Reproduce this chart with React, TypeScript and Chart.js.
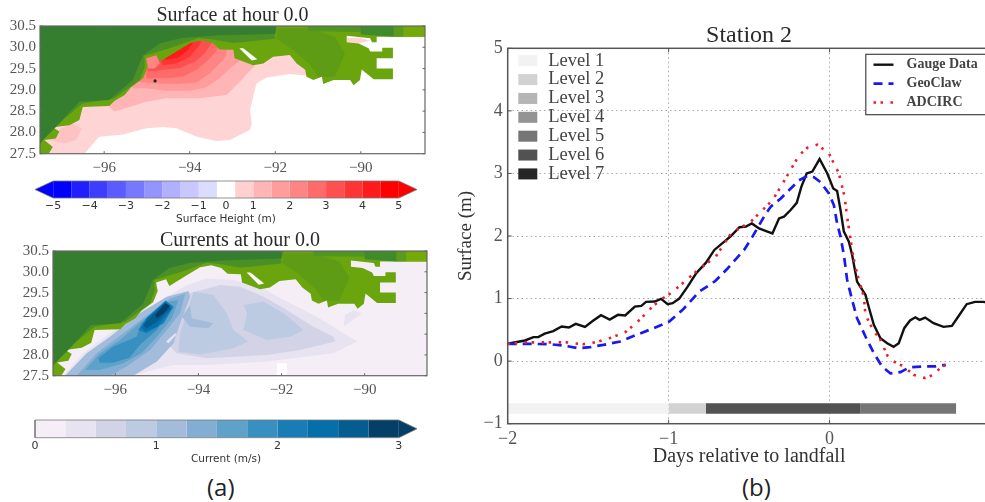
import React, { useEffect, useRef } from "react";
import { Chart, registerables } from "chart.js";

Chart.register(...registerables);

type Pt = [number, number];

const SERIF = "'Liberation Serif', serif";
const SANS = "'DejaVu Sans', sans-serif";

// ---------- Station 2 series: [days relative to landfall, surface in m] ----------
const gaugeData: Pt[] = [[-2,.277],[-1.893,.33],[-1.84,.383],[-1.81,.383],[-1.77,.44],[-1.717,.48],[-1.665,.553],[-1.62,.537],[-1.577,.596],[-1.52,.548],[-1.47,.644],[-1.42,.734],[-1.366,.665],[-1.315,.74],[-1.27,.73],[-1.21,.872],[-1.17,.883],[-1.14,.947],[-1.087,.952],[-1.047,.995],[-1.006,.91],[-.975,.926],[-.934,1.0],[-.882,1.19],[-.83,1.40],[-.768,1.574],[-.716,1.777],[-.654,1.91],[-.613,2.0],[-.56,2.14],[-.52,2.15],[-.483,2.2],[-.438,2.12],[-.386,2.07],[-.355,2.04],[-.314,2.28],[-.283,2.31],[-.242,2.415],[-.204,2.53],[-.175,2.79],[-.142,3.0],[-.107,3.03],[-.062,3.23],[-.014,3.0],[.023,2.76],[.047,2.72],[.068,2.415],[.089,2.07],[.12,1.91],[.14,1.70],[.171,1.27],[.223,1.06],[.243,.87],[.275,.58],[.316,.367],[.358,.287],[.398,.229],[.43,.287],[.464,.527],[.5,.649],[.533,.70],[.56,.66],[.594,.697],[.646,.606],[.708,.548],[.76,.564],[.80,.713],[.852,.91],[.904,.947],[.956,.947],[1.0,.93]];
const geoClawData: Pt[] = [[-2,.277],[-1.88,.277],[-1.736,.27],[-1.653,.25],[-1.56,.207],[-1.488,.223],[-1.405,.26],[-1.3,.314],[-1.2,.42],[-1.1,.52],[-.996,.633],[-.913,.82],[-.81,1.11],[-.71,1.28],[-.634,1.48],[-.53,1.78],[-.479,1.99],[-.407,2.31],[-.365,2.47],[-.303,2.6],[-.241,2.76],[-.19,2.89],[-.138,2.96],[-.097,2.94],[-.056,2.86],[-.004,2.68],[.027,2.49],[.047,2.2],[.068,1.99],[.09,1.68],[.109,1.30],[.14,.98],[.171,.686],[.223,.394],[.275,.128],[.326,-.085],[.378,-.197],[.44,-.176],[.5,-.096],[.584,-.085],[.656,-.085],[.722,-.058]];
const adcircData: Pt[] = [[-2,.277],[-1.88,.30],[-1.76,.30],[-1.636,.30],[-1.533,.27],[-1.45,.303],[-1.347,.383],[-1.264,.473],[-1.18,.66],[-1.1,.872],[-1.037,1.005],[-.986,1.085],[-.913,1.245],[-.83,1.43],[-.707,1.67],[-.613,2.04],[-.489,2.23],[-.427,2.39],[-.355,2.57],[-.303,2.79],[-.262,2.97],[-.19,3.29],[-.138,3.41],[-.076,3.46],[-.004,3.32],[.058,3.0],[.093,2.63],[.109,2.31],[.14,1.78],[.15,1.64],[.171,1.40],[.213,1.03],[.223,.74],[.27,.5],[.316,.34],[.36,.085],[.398,-.005],[.46,-.085],[.522,-.218],[.594,-.27],[.646,-.218],[.687,-.11],[.73,-.048]];

const levelNames = ["Level 1","Level 2","Level 3","Level 4","Level 5","Level 6","Level 7"];
const levelColors = ["#f2f2f2","#d2d2d2","#b5b5b5","#949494","#757575","#525252","#252525"];
const levelBarIndex = [0, 1, 5, 4];
const levelBarStart = [-2, -1, -0.768, 0.19];
const levelBarEnd = [-1, -0.768, 0.19, 0.786];
const levelBarY = -0.757;

// ---------- Colour bars ----------
const surfaceColors = ["#0000ff","#1f1fff","#3d3dff","#5b5bff","#7777ff","#9494ff","#b0b0ff","#c8c8ff","#dcdcff","#ffffff","#ffd0d0","#ffb5b5","#ff9c9c","#ff8585","#ff6b6b","#ff5050","#ff3535","#ff1b1b","#ff0000"];
const surfaceTickSlots = [0, 2, 4, 6, 8, 9.5, 11, 13, 15, 17, 19];
const surfaceTickLabels = ["−5","−4","−3","−2","−1","0","1","2","3","4","5"];
const currentColors = ["#f5eef6","#e8e3f0","#d3d3e8","#bccbe2","#a3bcdb","#83aed3","#5ea2ca","#3890c0","#187db6","#056fab","#045d90","#033f66"];
const currentTicks = [0, 1, 2, 3];

// ---------- Map shapes: [longitude, latitude] ----------
const landShape: Pt[] = [[-97.30,27.50],[-97.20,27.66],[-97.40,27.82],[-97.13,27.86],[-97.05,28.02],[-97.20,28.12],[-96.81,28.17],[-96.58,28.29],[-96.50,28.60],[-95.88,28.62],[-95.76,28.74],[-95.52,28.88],[-95.37,29.06],[-95.09,29.27],[-94.98,29.54],[-95.02,29.74],[-94.78,29.82],[-94.70,29.66],[-94.31,29.90],[-93.96,30.11],[-93.69,30.16],[-93.45,30.09],[-93.30,29.95],[-92.98,29.94],[-92.95,29.74],[-92.52,29.58],[-92.28,29.62],[-92.05,29.78],[-91.66,29.82],[-91.50,29.62],[-91.30,29.47],[-91.27,29.31],[-91.11,29.23],[-90.91,29.31],[-90.88,29.14],[-90.64,29.23],[-90.25,29.23],[-90.17,29.11],[-90.02,29.23],[-89.98,29.48],[-89.70,29.25],[-89.25,29.25],[-89.25,29.50],[-89.63,29.50],[-89.63,29.74],[-89.25,29.74],[-89.25,29.99],[-89.50,29.99],[-89.50,29.90],[-89.78,29.90],[-89.82,29.98],[-90.05,30.09],[-90.33,30.12],[-90.33,30.27],[-89.78,30.21],[-89.74,30.12],[-89.63,30.12],[-89.63,30.25],[-88.50,30.25],[-88.50,30.50],[-97.50,30.50],[-97.50,27.50]];
const midLand: Pt[] = [[-92.01,30.5],[-92.01,30.2],[-92.98,30.1],[-93.5,30.19],[-93.8,30.22],[-94.4,30.0],[-94.8,29.88],[-95.06,29.8],[-95.05,29.55],[-95.17,29.23],[-95.76,28.80],[-96.5,28.68],[-96.97,28.29],[-97.44,27.82],[-97.5,27.7],[-97.5,30.5]];
const darkLand: Pt[] = [[-97.5,30.5],[-97.5,27.75],[-97.05,28.21],[-96.58,28.72],[-95.88,28.76],[-95.33,29.23],[-95.1,29.8],[-94.70,30.09],[-94.2,30.22],[-93.3,30.28],[-92.5,30.3],[-92.0,30.32],[-91.97,30.5]];
const inlandPatch: Pt[] = [[-91.97,30.45],[-91.23,30.45],[-90.61,30.25],[-90.37,29.86],[-90.61,29.3],[-91.0,29.32],[-91.2,29.6],[-91.6,29.95],[-91.97,30.2]];
const northStrip: Pt[] = [[-91.23,30.5],[-91.23,30.38],[-90.0,30.36],[-90.0,30.5]];
const northStripEast: Pt[] = [[-90.0,30.5],[-90.0,30.3],[-89.23,30.25],[-89.23,30.5]];
const cornerStripMid: Pt[] = [[-89.23,30.5],[-89.23,30.25],[-89.0,30.25],[-89.0,30.5]];
const cornerStrip: Pt[] = [[-89.0,30.5],[-89.0,30.25],[-88.5,30.25],[-88.5,30.5]];
const lakeShape: Pt[] = [[-92.84,29.98],[-92.75,29.98],[-92.42,29.72],[-92.55,29.69]];

const surfaceBand1: Pt[] = [[-97.36,27.5],[-96.46,27.5],[-96.19,27.82],[-96.11,27.90],[-95.56,27.95],[-95.02,28.10],[-94.62,28.13],[-94.31,28.10],[-93.84,27.90],[-93.38,27.80],[-93.06,27.82],[-92.59,28.06],[-92.55,28.21],[-92.59,28.53],[-92.44,29.15],[-92.20,29.29],[-91.66,29.37],[-91.23,29.33],[-91.23,29.93],[-93.77,30.33],[-95.09,29.94],[-96.11,28.92],[-97.5,27.98]];
const surfaceBand2: Pt[] = [[-95.76,28.49],[-95.33,28.62],[-95.02,28.72],[-94.55,28.80],[-93.77,28.80],[-93.14,28.88],[-92.83,29.19],[-92.48,29.57],[-92.98,30.33],[-95.09,29.94],[-95.88,28.84],[-95.88,28.60]];
const surfaceBand3: Pt[] = [[-95.33,29.04],[-95.02,29.04],[-94.55,28.98],[-94.0,28.98],[-93.61,29.06],[-93.30,29.27],[-93.06,29.51],[-92.79,29.72],[-92.79,30.3],[-95.09,30.0],[-95.5,29.3]];
const surfaceBand4: Pt[] = [[-95.21,29.19],[-94.78,29.15],[-94.31,29.14],[-93.84,29.17],[-93.53,29.39],[-93.30,29.62],[-93.14,29.82],[-93.14,30.3],[-95.09,30.0],[-95.4,29.4]];
const surfaceBand5: Pt[] = [[-95.02,29.27],[-94.55,29.27],[-94.16,29.31],[-93.84,29.47],[-93.61,29.66],[-93.38,29.90],[-93.34,30.01],[-93.3,30.3],[-95.0,30.0]];
const surfaceBand6: Pt[] = [[-94.98,29.43],[-94.62,29.47],[-94.23,29.51],[-93.88,29.66],[-93.65,29.86],[-93.49,30.09],[-93.5,30.3],[-95,30]];
const surfaceBand7: Pt[] = [[-94.62,29.58],[-94.31,29.62],[-94.0,29.78],[-93.80,30.01],[-93.73,30.13],[-94,30.3],[-94.8,29.9]];
const surfaceBand8: Pt[] = [[-94.55,29.70],[-94.27,29.76],[-94.04,29.94],[-93.92,30.09],[-94.3,30.2],[-94.7,29.8]];
const bayShape: Pt[] = [[-94.98,29.50],[-95.02,29.74],[-94.78,29.82],[-94.70,29.62],[-94.82,29.50]];
const lowerPocket: Pt[] = [[-97.28,27.82],[-96.93,27.74],[-96.66,27.82],[-96.52,28.09],[-96.74,28.21],[-97.0,28.1]];
const easternPocket: Pt[] = [[-90.33,30.21],[-90.05,30.23],[-89.78,30.16],[-90.05,30.09],[-90.33,30.12]];
const stationMark: Pt[] = [[-94.81,29.21]];

const wholeMap: Pt[] = [[-97.5,27.5],[-88.5,27.5],[-88.5,30.5],[-97.5,30.5]];
const currentBlob1: Pt[] = [[-97.25,27.50],[-95.57,27.50],[-95.24,27.60],[-94.60,27.76],[-93.80,27.76],[-92.35,27.84],[-90.75,28.04],[-90.18,28.32],[-90.51,28.52],[-91.15,28.92],[-91.95,29.32],[-92.51,29.64],[-93.16,29.80],[-93.80,29.84],[-94.28,29.68],[-94.76,29.40],[-95.33,29.08],[-96.13,28.52],[-96.77,28.04]];
const currentBlob2: Pt[] = [[-94.52,28.04],[-93.80,27.92],[-92.35,28.0],[-91.55,28.12],[-90.71,28.32],[-90.75,28.44],[-91.31,28.72],[-91.87,29.08],[-92.43,29.40],[-93.0,29.64],[-93.48,29.68],[-93.96,29.55],[-94.28,29.48],[-94.76,29.20],[-95.20,28.88],[-94.92,28.44]];
const currentEast: Pt[] = [[-92.92,29.20],[-92.43,29.28],[-91.95,29.0],[-91.47,28.60],[-91.79,28.44],[-92.35,28.36],[-92.92,28.60],[-92.83,29.0]];
const currentMiddle: Pt[] = [[-94.48,28.08],[-93.96,28.01],[-93.16,28.16],[-92.80,28.32],[-93.16,28.60],[-93.32,29.0],[-93.64,29.44],[-94.12,29.52],[-94.28,29.0],[-94.44,28.52]];
const currentInner: Pt[] = [[-94.16,28.88],[-93.64,28.76],[-93.76,28.64],[-94.20,28.68],[-94.40,28.92],[-94.20,29.20]];
const jetOuter: Pt[] = [[-95.57,27.5],[-95.0,27.84],[-94.60,28.28],[-94.44,28.76],[-94.20,29.40],[-94.24,29.54],[-94.76,29.40],[-95.41,29.0],[-96.13,28.44],[-96.69,28.04],[-97.21,27.50]];
const jet5: Pt[] = [[-96.93,27.50],[-96.45,28.04],[-95.97,28.40],[-95.33,28.88],[-94.68,29.36],[-94.32,29.48],[-94.44,29.0],[-94.76,28.60],[-95.16,28.12],[-95.73,27.72],[-96.13,27.50]];
const jet6: Pt[] = [[-96.73,27.64],[-96.37,28.04],[-95.89,28.36],[-95.33,28.84],[-94.76,29.28],[-94.48,29.32],[-94.64,28.88],[-95.0,28.44],[-95.37,28.04],[-95.81,27.80],[-96.37,27.64]];
const jet7: Pt[] = [[-96.41,27.92],[-96.05,28.20],[-95.49,28.44],[-95.37,28.76],[-94.76,29.26],[-94.67,29.08],[-95.0,28.60],[-95.41,28.24],[-95.65,27.94],[-96.05,27.81],[-96.37,27.81]];
const jet8: Pt[] = [[-95.45,28.60],[-95.24,28.90],[-94.79,29.31],[-94.60,29.16],[-94.84,28.76],[-95.24,28.52]];
const jet9: Pt[] = [[-95.37,28.64],[-95.24,28.88],[-94.79,29.28],[-94.64,29.12],[-95.0,28.68],[-95.29,28.56]];
const jet10: Pt[] = [[-95.33,28.72],[-95.16,28.90],[-94.80,29.24],[-94.68,29.12],[-95.0,28.80],[-95.24,28.64]];
const jet11: Pt[] = [[-95.04,28.96],[-94.80,29.24],[-94.68,29.18],[-94.84,29.0],[-95.0,28.88]];
const slackPatch: Pt[] = [[-94.72,28.28],[-94.52,28.50],[-94.56,28.52],[-94.78,28.32]];
const dataGap: Pt[] = [[-92.11,27.80],[-91.87,27.80],[-91.87,27.5],[-92.11,27.5]];
const farEastBlob: Pt[] = [[-90.51,28.68],[-90.06,29.0],[-90.27,29.08],[-90.47,28.96]];

const toXY = (pts: Pt[]) => pts.map(([x, y]) => ({ x, y }));

// A closed, filled shape drawn through the chart's linear scales.
const shape = (pts: Pt[], color: string, order: number) => ({
  type: "line" as const,
  data: toXY(pts),
  fill: "shape",
  backgroundColor: color,
  borderWidth: 0,
  pointRadius: 0,
  tension: 0,
  order,
});

// bottom-first list -> datasets with descending order values
const stack = (layers: [Pt[], string][]) =>
  layers.map(([pts, color], i) => shape(pts, color, layers.length - i + 1));

const landLayers = (): [Pt[], string][] => [
  [landShape, "#6aa50d"],
  [inlandPatch, "#5f9c15"],
  [northStrip, "#4f9522"],
  [northStripEast, "#3f8b2b"],
  [cornerStripMid, "#5a9a1c"],
  [cornerStrip, "#74aa08"],
  [midLand, "#4b9027"],
  [darkLand, "#367e2f"],
  [lakeShape, "#ffffff"],
];

const frame = (lineWidth: number, color: string, tick: number) => ({
  id: "frame",
  afterDatasetsDraw(chart: any) {
    const { ctx, chartArea: a, scales } = chart;
    ctx.save();
    ctx.strokeStyle = color;
    ctx.lineWidth = lineWidth;
    ctx.strokeRect(a.left, a.top, a.right - a.left, a.bottom - a.top);
    ctx.lineWidth = 1;
    ctx.beginPath();
    for (const t of scales.x.ticks) {
      const p = scales.x.getPixelForValue(t.value);
      ctx.moveTo(p, a.bottom); ctx.lineTo(p, a.bottom - tick);
      ctx.moveTo(p, a.top); ctx.lineTo(p, a.top + tick);
    }
    for (const t of scales.y.ticks) {
      const p = scales.y.getPixelForValue(t.value);
      ctx.moveTo(a.left, p); ctx.lineTo(a.left + tick, p);
      ctx.moveTo(a.right, p); ctx.lineTo(a.right - tick, p);
    }
    ctx.stroke();
    ctx.restore();
  },
});

const mapOptions = (title: string, pad: { top: number; bottom: number }, opts: { left: number; right: number; bottom: number }) => ({
  animation: false,
  responsive: false,
  layout: { autoPadding: false, padding: { right: opts.right } },
  plugins: {
    legend: { display: false },
    tooltip: { enabled: false },
    title: {
      display: true, text: title, color: "#2a2a2a", fullSize: false,
      font: { family: SERIF, size: 20, weight: "normal", lineHeight: 1 },
      padding: pad,
    },
  },
  scales: {
    x: {
      type: "linear", min: -97.5, max: -88.5,
      afterFit: (s: any) => { s.height = opts.bottom; },
      grid: { display: false, drawTicks: false },
      border: { display: false },
      ticks: {
        stepSize: 2, includeBounds: false, color: "#555", padding: 5, maxRotation: 0, autoSkip: false,
        font: { family: SERIF, size: 15 },
        callback: (v: number) => String(v).replace("-", "−"),
      },
    },
    y: {
      type: "linear", min: 27.5, max: 30.5,
      afterFit: (s: any) => { s.width = opts.left; },
      grid: { display: false, drawTicks: false },
      border: { display: false },
      ticks: {
        stepSize: 0.5, color: "#555", padding: 4, autoSkip: false,
        font: { family: SERIF, size: 15 },
        callback: (v: number) => Number(v).toFixed(1),
      },
    },
  },
});

const surfaceMapConfig = () => {
  const layers: [Pt[], string][] = [
    [surfaceBand1, "#ffd4d4"],
    [lowerPocket, "#ffc2c2"],
    [easternPocket, "#ffd4d4"],
    [surfaceBand2, surfaceColors[11]],
    [surfaceBand3, surfaceColors[12]],
    [surfaceBand4, surfaceColors[13]],
    [surfaceBand5, surfaceColors[14]],
    [surfaceBand6, surfaceColors[15]],
    [surfaceBand7, surfaceColors[16]],
    [surfaceBand8, surfaceColors[17]],
    [bayShape, surfaceColors[13]],
    ...landLayers(),
  ];
  return {
    type: "line",
    data: {
      datasets: [
        { type: "scatter", data: toXY(stationMark), pointRadius: 1.6, backgroundColor: "#222", borderWidth: 0, order: 0 },
        ...stack(layers),
      ],
    },
    options: mapOptions("Surface at hour 0.0", { top: 6, bottom: 0 }, { left: 40, right: 15, bottom: 21.3 }),
    plugins: [frame(1.2, "#666", 2.5)],
  };
};

const currentMapConfig = () => {
  const layers: [Pt[], string][] = [
    [wholeMap, currentColors[0]],
    [dataGap, "#ffffff"],
    [farEastBlob, currentColors[1]],
    [currentBlob1, currentColors[1]],
    [currentBlob2, currentColors[2]],
    [currentMiddle, currentColors[3]],
    [currentEast, currentColors[3]],
    [currentInner, currentColors[4]],
    [jetOuter, currentColors[4]],
    [jet5, currentColors[5]],
    [jet6, currentColors[6]],
    [jet7, currentColors[7]],
    [jet8, currentColors[8]],
    [jet9, currentColors[9]],
    [jet10, currentColors[10]],
    [jet11, currentColors[11]],
    [slackPatch, currentColors[1]],
    ...landLayers(),
  ];
  return {
    type: "line",
    data: { datasets: stack(layers) },
    options: mapOptions("Currents at hour 0.0", { top: 1, bottom: 0 }, { left: 53, right: 13, bottom: 24.3 }),
    plugins: [frame(1.2, "#666", 2.5)],
  };
};

const barOptions = (label: string, min: number, max: number, ticks: any, bottom: number) => ({
  animation: false,
  responsive: false,
  layout: { autoPadding: false, padding: { left: 35, right: 23, top: 6 } },
  plugins: { legend: { display: false }, tooltip: { enabled: false } },
  scales: {
    x: {
      type: "linear", min, max,
      afterFit: (s: any) => { s.height = bottom; },
      grid: { display: false, drawTicks: false },
      border: { display: false },
      ticks: { color: "#333", padding: 2, maxRotation: 0, autoSkip: false, font: { family: SANS, size: 11 }, ...ticks },
      title: { display: true, text: label, color: "#333", font: { family: SANS, size: 10.5, lineHeight: 1 }, padding: { top: 0, bottom: 5 } },
    },
    y: { type: "linear", min: 0, max: 1, display: false },
  },
});

const rect = (a: number, b: number): Pt[] => [[a, 0], [b, 0], [b, 1], [a, 1]];

const outline = (pts: Pt[]) => ({
  type: "line" as const, data: toXY([...pts, pts[0]]), borderColor: "#777", borderWidth: 0.8,
  pointRadius: 0, fill: false, tension: 0, order: 0, clip: 2,
});

const surfaceBarConfig = () => {
  const n = surfaceColors.length;
  return {
    type: "line",
    data: {
      datasets: [
        outline([[-1, 0.5], [0, 0], [n, 0], [n + 1, 0.5], [n, 1], [0, 1]]),
        ...surfaceColors.map((c, i) => shape(rect(i, i + 1), c, 1)),
        shape([[-1, 0.5], [0, 0], [0, 1]], surfaceColors[0], 1),
        shape([[n + 1, 0.5], [n, 0], [n, 1]], surfaceColors[n - 1], 1),
      ],
    },
    options: barOptions("Surface Height (m)", -1, n + 1, {
      callback: (_v: number, i: number) => surfaceTickLabels[i],
    }, 32),
  };
};

const currentBarConfig = () => {
  const step = 3 / currentColors.length;
  return {
    type: "line",
    data: {
      datasets: [
        outline([[0, 0], [3, 0], [3.15, 0.5], [3, 1], [0, 1]]),
        ...currentColors.map((c, i) => shape(rect(i * step, (i + 1) * step), c, 1)),
        shape([[3.15, 0.5], [3, 0], [3, 1]], currentColors[currentColors.length - 1], 1),
      ],
    },
    options: barOptions("Current (m/s)", 0, 3.15, {
      callback: (_v: number, i: number) => String(currentTicks[i]),
    }, 32.3),
  };
};

const withFixedTicks = (config: any, values: number[]) => {
  config.options.scales.x.afterBuildTicks = (s: any) => {
    s.ticks = values.map((value) => ({ value }));
  };
  return config;
};

const stationLegends = {
  id: "stationLegends",
  afterDatasetsDraw(chart: any) {
    const { ctx, chartArea: a } = chart;
    ctx.save();
    // refinement levels, top left
    ctx.textBaseline = "middle";
    ctx.textAlign = "left";
    levelNames.forEach((name, i) => {
      const y = a.top + 12.4 + i * 18.87;
      ctx.fillStyle = levelColors[i];
      ctx.fillRect(a.left + 10.6, y - 5.5, 19, 11);
      ctx.fillStyle = "#444";
      ctx.font = `18.5px ${SERIF}`;
      ctx.fillText(name, a.left + 40.6, y);
    });
    // series, top right
    const bx = a.right - 124.7;
    const by = a.top + 6;
    ctx.fillStyle = "#fff";
    ctx.fillRect(bx, by, 140, 60.4);
    ctx.strokeStyle = "#444";
    ctx.lineWidth = 1.2;
    ctx.strokeRect(bx, by, 140, 60.4);
    const lineRows = chart.data.datasets.filter((d: any) => d.seriesRow !== undefined);
    lineRows.forEach((d: any) => {
      const y = a.top + 16.4 + d.seriesRow * 18.9;
      ctx.strokeStyle = d.borderColor;
      ctx.lineWidth = d.borderWidth;
      ctx.setLineDash(d.borderDash || []);
      ctx.beginPath();
      ctx.moveTo(bx + 7.7, y);
      ctx.lineTo(bx + 27.7, y);
      ctx.stroke();
      ctx.setLineDash([]);
      ctx.fillStyle = "#444";
      ctx.font = `bold 14px ${SERIF}`;
      ctx.fillText(d.label, bx + 40.7, y);
    });
    ctx.restore();
  },
};

const stationConfig = () => ({
  type: "line",
  data: {
    datasets: [
      ...levelBarIndex.map((lv, i) => ({
        label: levelNames[lv],
        data: toXY([[levelBarStart[i], levelBarY], [levelBarEnd[i], levelBarY]]),
        borderColor: levelColors[lv],
        borderWidth: 10.5,
        borderCapStyle: "butt",
        pointRadius: 0,
        order: 4,
      })),
      { label: "Gauge Data", seriesRow: 0, data: toXY(gaugeData), borderColor: "#111", borderWidth: 2.4, pointRadius: 0, tension: 0, order: 3 },
      { label: "GeoClaw", seriesRow: 1, data: toXY(geoClawData), borderColor: "#1a1aee", borderWidth: 2.7, borderDash: [9, 6], pointRadius: 0, tension: 0, order: 2 },
      { label: "ADCIRC", seriesRow: 2, data: toXY(adcircData), borderColor: "#ee1c2c", borderWidth: 2.6, borderDash: [2.5, 4.5, 2.5, 7.5], pointRadius: 0, tension: 0, order: 1 },
    ],
  },
  options: {
    animation: false,
    responsive: false,
    layout: { autoPadding: false, padding: { right: 8 } },
    plugins: {
      legend: { display: false },
      tooltip: { enabled: false },
      title: {
        display: true, text: "Station 2", color: "#2a2a2a", fullSize: false,
        font: { family: SERIF, size: 24, weight: "normal", lineHeight: 1 },
        padding: { top: 4, bottom: 0.3 },
      },
    },
    scales: {
      x: {
        type: "linear", min: -2, max: 1,
        afterFit: (s: any) => { s.height = 46.3; },
        grid: { color: "#aaa", drawTicks: false, lineWidth: 1 },
        border: { display: false, dash: [1.5, 3] },
        ticks: { stepSize: 1, color: "#555", padding: 5, maxRotation: 0, font: { family: SERIF, size: 18 }, callback: (v: number) => String(v).replace("-", "−") },
        title: { display: true, text: "Days relative to landfall", color: "#333", font: { family: SERIF, size: 20, lineHeight: 1 }, padding: { top: 0, bottom: 3 } },
      },
      y: {
        type: "linear", min: -1, max: 5,
        afterFit: (s: any) => { s.width = 57.7; },
        grid: { color: "#aaa", drawTicks: false, lineWidth: 1 },
        border: { display: false, dash: [1.5, 3] },
        ticks: { stepSize: 1, color: "#555", padding: 5, font: { family: SERIF, size: 18 }, callback: (v: number) => String(v).replace("-", "−") },
        title: { display: true, text: "Surface (m)", color: "#333", font: { family: SERIF, size: 19, lineHeight: 1 }, padding: { top: 7, bottom: 0 } },
      },
    },
  },
  plugins: [frame(1.5, "#555", 4), stationLegends],
});

const panels = [
  { key: "surface", left: 0, top: 0, width: 440, height: 175, make: surfaceMapConfig },
  { key: "surfaceBar", left: 0, top: 175, width: 440, height: 55, make: () => withFixedTicks(surfaceBarConfig(), surfaceTickSlots) },
  { key: "current", left: 0, top: 230, width: 440, height: 170, make: currentMapConfig },
  { key: "currentBar", left: 0, top: 414, width: 440, height: 56, make: () => withFixedTicks(currentBarConfig(), currentTicks) },
  { key: "station", left: 450, top: 20, width: 550, height: 450, make: stationConfig },
];

function Panel(p: { left: number; top: number; width: number; height: number; make: () => any }) {
  const ref = useRef<HTMLCanvasElement | null>(null);
  useEffect(() => {
    const chart = new Chart(ref.current as HTMLCanvasElement, p.make());
    return () => chart.destroy();
  }, []);
  return (
    <canvas
      ref={ref}
      width={p.width}
      height={p.height}
      style={{ position: "absolute", left: p.left, top: p.top, width: p.width, height: p.height }}
    />
  );
}

const captionStyle = (left: number): React.CSSProperties => ({
  position: "absolute", left, top: 471, fontFamily: "'Open Sans', sans-serif", fontSize: 24, lineHeight: "32px", color: "#222",
});

export default function App() {
  useEffect(() => {
    document.body.style.margin = "0";
  }, []);
  return (
    <div style={{ position: "relative", width: 985, height: 502, overflow: "hidden", background: "#fff", filter: "blur(0.4px)" }}>
      {panels.map((p) => (
        <Panel key={p.key} left={p.left} top={p.top} width={p.width} height={p.height} make={p.make} />
      ))}
      <div style={captionStyle(207)}>(a)</div>
      <div style={captionStyle(742)}>(b)</div>
    </div>
  );
}
